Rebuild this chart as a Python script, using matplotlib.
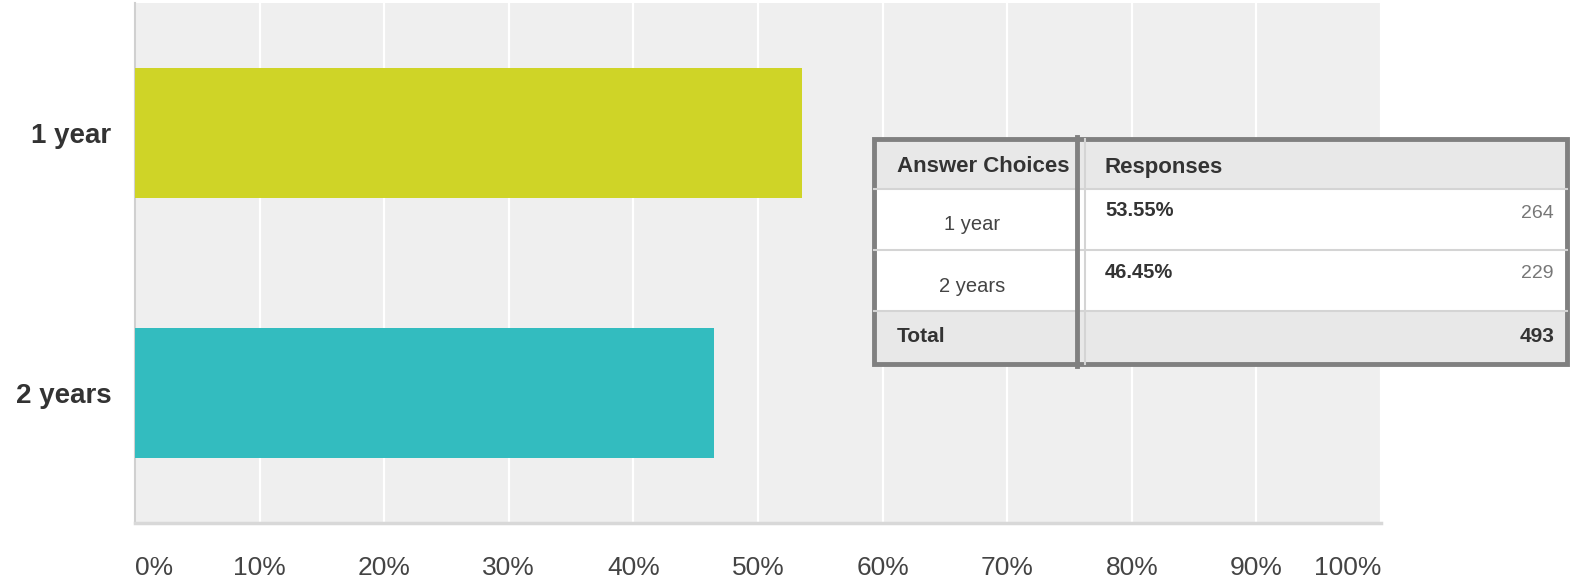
import matplotlib
matplotlib.use("Agg")
import matplotlib.pyplot as plt
from matplotlib.patches import Rectangle

plt.rcParams['font.family'] = ['Liberation Sans', 'DejaVu Sans']

# data
categories = ["1 year", "2 years"]
percents = [53.55, 46.45]
counts = [264, 229]
total = 493
bar_colors = ["#CFD427", "#33BCBF"]
tick_values = list(range(0, 101, 10))
tick_labels = [f"{v}%" for v in tick_values]

W, H = 1572, 586
fig = plt.figure(figsize=(W / 100, H / 100), dpi=100)

# main bar chart, placed in pixel terms
left, right, top, bottom = 135, 1381, 3, 523
ax = fig.add_axes([left / W, 1 - bottom / H, (right - left) / W, (bottom - top) / H])
ax.set_facecolor("#EFEFEF")
ax.barh(range(len(categories)), percents, height=0.5, color=bar_colors, zorder=3)
ax.set_xlim(0, 100)
ax.set_ylim(len(categories) - 0.5, -0.5)

ax.set_xticks(tick_values)
ax.set_xticklabels(tick_labels, fontsize=19, color="#444444")
ax.set_yticks(range(len(categories)))
ax.set_yticklabels(categories, fontsize=20, fontweight="bold", color="#333333")
ax.tick_params(axis="x", length=0, pad=24)
ax.tick_params(axis="y", length=0, pad=17)
xt = ax.get_xticklabels()
xt[0].set_ha("left")
xt[-1].set_ha("right")

ax.grid(axis="x", color="white", linewidth=1.6, zorder=1)
ax.set_axisbelow(True)
for s in ["top", "right"]:
    ax.spines[s].set_visible(False)
ax.spines["left"].set_color("#D0D0D0")
ax.spines["left"].set_linewidth(1.5)
ax.spines["bottom"].set_color("#D8D8D8")
ax.spines["bottom"].set_linewidth(2.5)

# overlay table in pixel coordinates
ov = fig.add_axes([0, 0, 1, 1], zorder=10)
ov.set_xlim(0, W)
ov.set_ylim(H, 0)
ov.axis("off")

tx0, tx1 = 874, 1567
ty = [139, 189, 250, 311, 364]
col_split = 1077
row_bg = ["#E8E8E8", "white", "white", "#E8E8E8"]
for i in range(4):
    ov.add_patch(Rectangle((tx0, ty[i]), tx1 - tx0, ty[i + 1] - ty[i],
                           facecolor=row_bg[i], edgecolor="none"))
for y in ty[1:-1]:
    ov.plot([tx0, tx1], [y, y], color="#D4D4D4", linewidth=1.5)
ov.plot([1085, 1085], [ty[0], ty[-1]], color="#D4D4D4", linewidth=1.5)
ov.add_patch(Rectangle((tx0, ty[0]), tx1 - tx0, ty[-1] - ty[0],
                       facecolor="none", edgecolor="#808080", linewidth=3.5))
ov.plot([col_split, col_split], [ty[0] - 2, ty[-1] + 2], color="#808080", linewidth=3.5)

ov.text(897, 167, "Answer Choices", fontsize=16, fontweight="bold",
        color="#333333", va="center")
ov.text(1105, 167, "Responses", fontsize=16, fontweight="bold",
        color="#333333", va="center")
for i, (cat, p, c) in enumerate(zip(categories, percents, counts)):
    y0 = ty[i + 1]
    ov.text(972, y0 + 36, cat, fontsize=14.5, color="#444444", ha="center", va="center")
    ov.text(1105, y0 + 22, f"{p:.2f}%", fontsize=14.5, fontweight="bold",
            color="#333333", va="center")
    ov.text(1554, y0 + 24, str(c), fontsize=14, color="#777777", ha="right", va="center")
ov.text(897, 336, "Total", fontsize=15, fontweight="bold", color="#333333", va="center")
ov.text(1554, 336, str(total), fontsize=15, fontweight="bold", color="#333333",
        ha="right", va="center")

fig.savefig("out.png", dpi=100)
